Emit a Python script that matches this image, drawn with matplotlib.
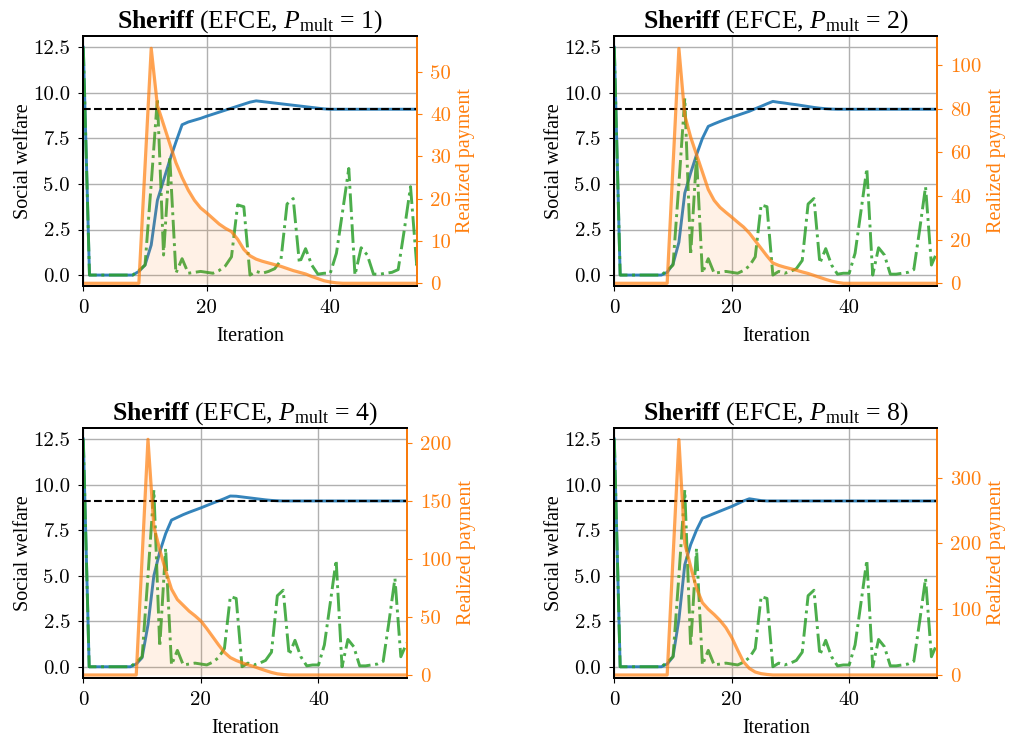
import numpy as np
import matplotlib.pyplot as plt

plt.rcParams['font.family'] = 'Liberation Serif'
plt.rcParams['mathtext.fontset'] = 'custom'
plt.rcParams['mathtext.rm'] = 'Liberation Serif'
plt.rcParams['mathtext.it'] = 'Liberation Serif:italic'
plt.rcParams['mathtext.bf'] = 'Liberation Serif:bold'

# iterations 0..55
iters = np.arange(56)

# optimal social welfare (dashed line)
optimum = 9.1

# green dash-dot curve, same in every panel
green = [12.5, 0.0, 0.0, 0.0, 0.0, 0.0, 0.0, 0.0, 0.0, 0.25,
         0.55, 5.0, 9.7, 1.1, 6.5, 0.1, 0.9, 0.1, 0.15, 0.2,
         0.15, 0.1, 0.25, 0.5, 1.0, 3.85, 3.75, 0.0, 0.2, 0.1,
         0.2, 0.35, 0.8, 3.9, 4.2, 0.65, 1.45, 0.55, 0.05, 0.1,
         0.1, 1.2, 3.5, 5.85, 0.0, 1.5, 1.1, 0.05, 0.05, 0.1,
         0.15, 0.3, 2.5, 4.85, 0.55, 1.3]

# social welfare (blue) for P_mult = 1, 2, 4, 8
welfare_1 = [12.5, 0.0, 0.0, 0.0, 0.0, 0.0, 0.0, 0.0, 0.0, 0.2,
             0.55, 1.65, 4.1, 5.2, 6.3, 7.3, 8.25, 8.4, 8.5, 8.6,
             8.72, 8.83, 8.94, 9.05, 9.16, 9.27, 9.38, 9.49, 9.56, 9.52,
             9.48, 9.44, 9.4, 9.36, 9.32, 9.28, 9.24, 9.2, 9.16, 9.12,
             9.1, 9.1, 9.1, 9.1, 9.1, 9.1, 9.1, 9.1, 9.1, 9.1,
             9.1, 9.1, 9.1, 9.1, 9.1, 9.1]
welfare_2 = [12.5, 0.0, 0.0, 0.0, 0.0, 0.0, 0.0, 0.0, 0.0, 0.15,
             0.6, 1.8, 4.5, 5.6, 6.6, 7.5, 8.16, 8.3, 8.43, 8.55,
             8.66, 8.77, 8.88, 8.99, 9.13, 9.26, 9.4, 9.53, 9.48, 9.44,
             9.39, 9.35, 9.3, 9.25, 9.2, 9.16, 9.13, 9.11, 9.1, 9.1,
             9.1, 9.1, 9.1, 9.1, 9.1, 9.1, 9.1, 9.1, 9.1, 9.1,
             9.1, 9.1, 9.1, 9.1, 9.1, 9.1]
welfare_4 = [12.5, 0.0, 0.0, 0.0, 0.0, 0.0, 0.0, 0.0, 0.0, 0.15,
             0.5, 2.3, 5.0, 6.3, 7.3, 8.05, 8.2, 8.35, 8.48, 8.6,
             8.72, 8.85, 8.98, 9.1, 9.23, 9.37, 9.36, 9.32, 9.28, 9.24,
             9.2, 9.16, 9.13, 9.11, 9.1, 9.1, 9.1, 9.1, 9.1, 9.1,
             9.1, 9.1, 9.1, 9.1, 9.1, 9.1, 9.1, 9.1, 9.1, 9.1,
             9.1, 9.1, 9.1, 9.1, 9.1, 9.1]
welfare_8 = [12.5, 0.0, 0.0, 0.0, 0.0, 0.0, 0.0, 0.0, 0.0, 0.15,
             0.55, 2.6, 5.6, 6.7, 7.5, 8.15, 8.28, 8.41, 8.54, 8.67,
             8.8, 8.95, 9.1, 9.22, 9.17, 9.12, 9.1, 9.1, 9.1, 9.1,
             9.1, 9.1, 9.1, 9.1, 9.1, 9.1, 9.1, 9.1, 9.1, 9.1,
             9.1, 9.1, 9.1, 9.1, 9.1, 9.1, 9.1, 9.1, 9.1, 9.1,
             9.1, 9.1, 9.1, 9.1, 9.1, 9.1]

# realized payment (orange) for P_mult = 1, 2, 4, 8
payment_1 = [0, 0, 0, 0, 0, 0, 0, 0, 0, 0,
             27.7, 55.5, 42, 37.5, 33, 28.5, 25, 22, 19.6, 17.8,
             16.6, 15.3, 14, 13, 12.2, 10.4, 8.0, 6.5, 5.7, 5.2,
             4.8, 4.4, 4.0, 3.5, 3.0, 2.6, 2.2, 1.6, 1.1, 0.6,
             0.3, 0.1, 0, 0, 0, 0, 0, 0, 0, 0,
             0, 0, 0, 0, 0, 0]
payment_2 = [0, 0, 0, 0, 0, 0, 0, 0, 0, 0,
             54, 107.6, 77, 67, 59, 51, 43, 38, 34.8, 32.5,
             30.3, 28, 25.8, 23, 19.5, 16, 12.5, 9.3, 8.2, 7.4,
             6.7, 6.0, 5.2, 4.5, 3.6, 2.7, 1.8, 1.0, 0.4, 0,
             0, 0, 0, 0, 0, 0, 0, 0, 0, 0,
             0, 0, 0, 0, 0, 0]
payment_4 = [0, 0, 0, 0, 0, 0, 0, 0, 0, 0,
             101, 203, 128, 108, 90, 74, 65, 60, 55, 51,
             46.5, 40, 33, 26, 19.5, 15, 12.5, 10.5, 8.8, 7.3,
             5.5, 3.8, 2.2, 1.0, 0.4, 0, 0, 0, 0, 0,
             0, 0, 0, 0, 0, 0, 0, 0, 0, 0,
             0, 0, 0, 0, 0, 0]
payment_8 = [0, 0, 0, 0, 0, 0, 0, 0, 0, 0,
             179, 358, 200, 165, 132, 110, 100, 92, 83, 72,
             57, 38, 20, 10, 4.5, 2, 0.8, 0, 0, 0,
             0, 0, 0, 0, 0, 0, 0, 0, 0, 0,
             0, 0, 0, 0, 0, 0, 0, 0, 0, 0,
             0, 0, 0, 0, 0, 0]

mults = [1, 2, 4, 8]
welfares = [welfare_1, welfare_2, welfare_4, welfare_8]
payments = [payment_1, payment_2, payment_4, payment_8]
x_max = [54, 55, 55, 55]
pay_top = [58.4, 113.3, 213, 376]
pay_ticks = [[0, 10, 20, 30, 40, 50],
             [0, 20, 40, 60, 80, 100],
             [0, 50, 100, 150, 200],
             [0, 100, 200, 300]]
welfare_ticks = [0.0, 2.5, 5.0, 7.5, 10.0, 12.5]

# axes boxes in pixels: left, right, top, bottom
boxes = [(83.3, 416.7, 36, 286),
         (614.3, 937.3, 36, 286),
         (83.3, 406.7, 427.7, 677.7),
         (614.3, 937.3, 427.7, 677.7)]

W, H = 1010, 736
orange = '#ff7f0e'
fig = plt.figure(figsize=(W / 100, H / 100), dpi=100)

for i in range(4):
    l, r, t, b = boxes[i]
    ax = fig.add_axes([l / W, 1 - b / H, (r - l) / W, (b - t) / H])
    ax2 = ax.twinx()

    ax.plot(iters, welfares[i], color='#1f77b4', lw=2.1, alpha=0.9)
    ax.plot(iters, green, color='#2ca02c', lw=2.1, ls='-.', alpha=0.85)
    ax.axhline(optimum, color='black', ls='--', lw=1.5)

    ax2.fill_between(iters, payments[i], color=orange, alpha=0.1, lw=0)
    ax2.plot(iters, payments[i], color=orange, lw=2.3, alpha=0.7)

    ax.set_xlim(0, x_max[i])
    ax.set_ylim(-0.6, 13.12)
    ax2.set_ylim(-0.011 * pay_top[i], pay_top[i])

    ax.set_xticks([0, 20, 40])
    ax.set_xticklabels(['0', '20', '40'], fontfamily='cmr10', fontsize=15)
    ax.set_yticks(welfare_ticks)
    ax.set_yticklabels(['%.1f' % v for v in welfare_ticks], fontfamily='cmr10', fontsize=15)
    ax2.set_yticks(pay_ticks[i])
    ax2.set_yticklabels([str(v) for v in pay_ticks[i]], fontfamily='cmr10',
                        fontsize=15, color=orange)
    ax.tick_params(pad=6)
    ax2.tick_params(axis='y', colors=orange, pad=6)

    ax.grid(True, color='#b0b0b0', lw=1)
    for sp in ax.spines.values():
        sp.set_linewidth(1.4)
    for sp in ax2.spines.values():
        sp.set_linewidth(1.4)
    ax2.spines['right'].set_color(orange)

    ax.set_xlabel('Iteration', fontsize=14.5, labelpad=7)
    ax.set_ylabel('Social welfare', fontsize=14.5, labelpad=0)
    ax2.set_ylabel('Realized payment', fontsize=14.5, color=orange)
    ax.set_title(r'$\mathbf{Sheriff}$ (EFCE, $P_{\mathrm{mult}}$ = %d)' % mults[i],
                 fontsize=18.5, pad=6)

fig.savefig('out.png', dpi=100)
